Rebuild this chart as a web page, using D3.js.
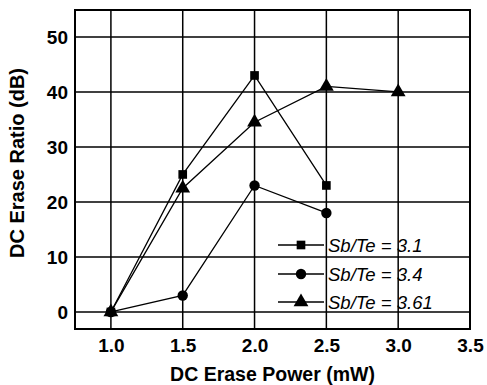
<!DOCTYPE html>
<html>
<head>
<meta charset="utf-8">
<script src="https://cdn.jsdelivr.net/npm/d3@7"></script>
<style>
  body { margin: 0; background: #fff; }
  text { font-family: "Liberation Sans", Arial, sans-serif; fill: #000; }
</style>
</head>
<body>
<svg id="chart" width="487" height="385"></svg>
<script>
// values
var power = [1.0, 1.5, 2.0, 2.5, 3.0];
var ratio31 = [0, 25, 43, 23];
var ratio34 = [0, 3, 23, 18];
var ratio361 = [0, 22.5, 34.5, 41, 40];
var seriesNames = ['Sb/Te = 3.1', 'Sb/Te = 3.4', 'Sb/Te = 3.61'];
var xTicks = [1.0, 1.5, 2.0, 2.5, 3.0, 3.5];
var yTicks = [0, 10, 20, 30, 40, 50];

var series = [
  { name: seriesNames[0], values: ratio31, sym: d3.symbolSquare, size: 75 },
  { name: seriesNames[1], values: ratio34, sym: d3.symbolCircle, size: 85 },
  { name: seriesNames[2], values: ratio361, sym: d3.symbolTriangle, size: 95 }
];

var m = { left: 75, top: 10, right: 17, bottom: 56 };
var svg = d3.select('#chart');
var w = 487 - m.left - m.right, h = 385 - m.top - m.bottom;
var g = svg.append('g').attr('transform', 'translate(' + m.left + ',' + m.top + ')');

var x = d3.scaleLinear().domain([0.75, 3.5]).range([0, w]);
var y = d3.scaleLinear().domain([-3.1, 54.9]).range([h, 0]);

// grid
g.selectAll('.vg').data(xTicks.slice(0, -1)).enter().append('line')
  .attr('x1', function (d) { return x(d); }).attr('x2', function (d) { return x(d); })
  .attr('y1', 0).attr('y2', h)
  .attr('stroke', '#000').attr('stroke-width', 1.5);
g.selectAll('.hg').data(yTicks).enter().append('line')
  .attr('y1', function (d) { return y(d); }).attr('y2', function (d) { return y(d); })
  .attr('x1', 0).attr('x2', w)
  .attr('stroke', '#000').attr('stroke-width', 1.5);

g.append('rect').attr('width', w).attr('height', h)
  .attr('fill', 'none').attr('stroke', '#000').attr('stroke-width', 2);

// axes labels
var xAxis = d3.axisBottom(x).tickValues(xTicks).tickFormat(d3.format('.1f')).tickSize(0).tickPadding(10);
var xa = g.append('g').attr('transform', 'translate(0,' + h + ')').call(xAxis);
var yAxis = d3.axisLeft(y).tickValues(yTicks).tickSize(0).tickPadding(7);
var ya = g.append('g').call(yAxis);
[xa, ya].forEach(function (a) {
  a.select('.domain').remove();
  a.selectAll('text').style('font-size', '19px').style('font-weight', 'bold')
    .style('font-family', '"Liberation Sans", Arial, sans-serif');
});

svg.append('text').attr('x', m.left + w / 2).attr('y', 381)
  .attr('text-anchor', 'middle').style('font-size', '19.5px').style('font-weight', 'bold')
  .text('DC Erase Power (mW)');
svg.append('text').attr('transform', 'translate(24,' + (m.top + 153) + ') rotate(-90)')
  .attr('text-anchor', 'middle').style('font-size', '20px').style('font-weight', 'bold')
  .text('DC Erase Ratio (dB)');

// series
var line = d3.line().x(function (d, i) { return x(power[i]); }).y(function (d) { return y(d); });
series.forEach(function (s) {
  g.append('path').datum(s.values).attr('d', line)
    .attr('fill', 'none').attr('stroke', '#000').attr('stroke-width', 1.3);
  g.selectAll(null).data(s.values).enter().append('path')
    .attr('d', d3.symbol().type(s.sym).size(s.size))
    .attr('transform', function (d, i) { return 'translate(' + x(power[i]) + ',' + y(d) + ')'; })
    .attr('fill', '#000');
});

// legend
var lg = svg.append('g');
var rows = [245, 274, 302];
series.forEach(function (s, i) {
  lg.append('line').attr('x1', 278).attr('x2', 324).attr('y1', rows[i]).attr('y2', rows[i])
    .attr('stroke', '#000').attr('stroke-width', 1.3);
  lg.append('path').attr('d', d3.symbol().type(s.sym).size(s.size))
    .attr('transform', 'translate(301,' + rows[i] + ')').attr('fill', '#000');
  lg.append('text').attr('x', 328).attr('y', rows[i] + 7)
    .style('font-size', '18.5px').style('font-style', 'italic')
    .text(s.name);
});
</script>
</body>
</html>
